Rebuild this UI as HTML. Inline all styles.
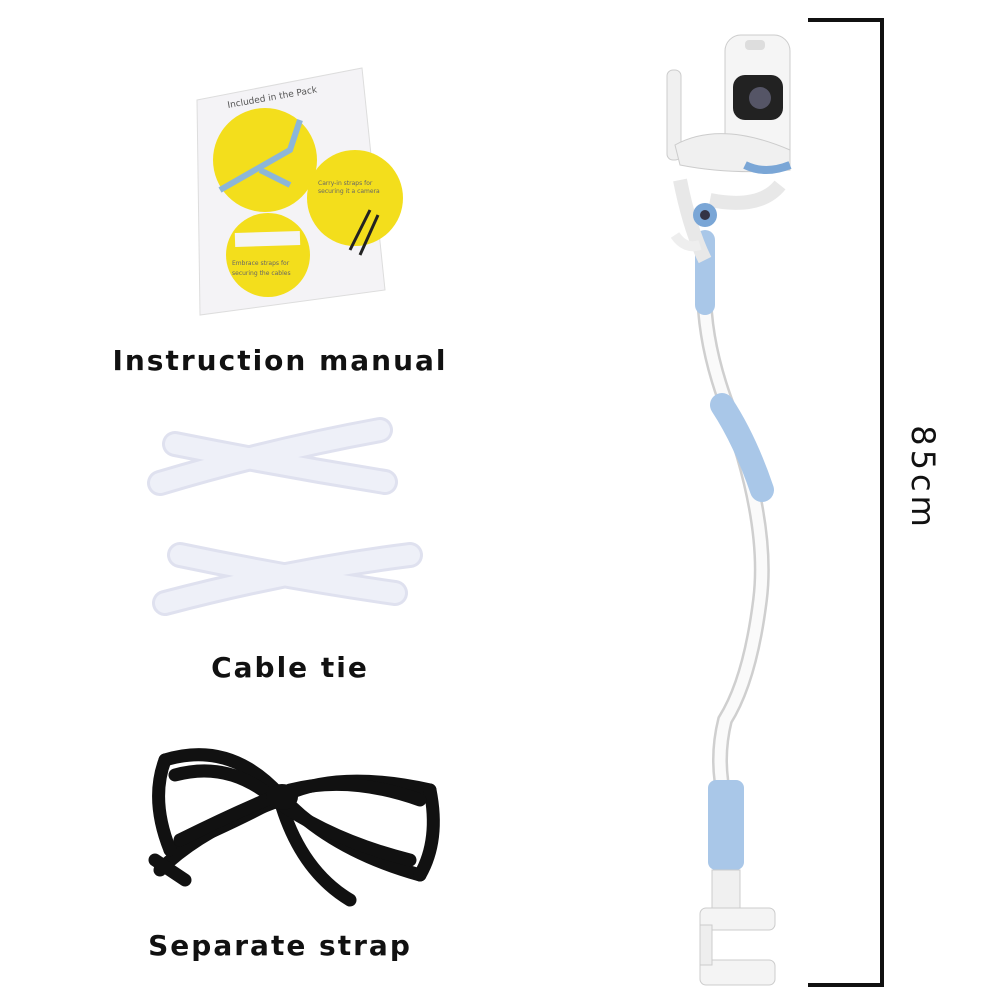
<!DOCTYPE html>
<html><head><meta charset="utf-8"><style>
html,body{margin:0;padding:0;background:#fff;}
svg{display:block}
text{font-family:"DejaVu Sans","Liberation Sans",sans-serif;}
</style></head><body>
<svg width="1000" height="1000" viewBox="0 0 1000 1000" xmlns="http://www.w3.org/2000/svg">
<rect width="1000" height="1000" fill="#fff"/>
<!-- Manual -->
<g>
<polygon points="197,100 362,68 385,290 200,315" fill="#f4f3f6" stroke="#ddd"/>
<text x="228" y="108" font-size="9" fill="#555" transform="rotate(-10 228 108)">Included in the Pack</text>
<circle cx="265" cy="160" r="52" fill="#f3de1c"/>
<circle cx="355" cy="198" r="48" fill="#f3de1c"/>
<circle cx="268" cy="255" r="42" fill="#f3de1c"/>
<path d="M220,190 L290,150 L300,120 M260,170 L290,185" stroke="#8cb6d8" stroke-width="6" fill="none"/>
<path d="M235,240 L300,238" stroke="#f4f4f4" stroke-width="14"/>
<path d="M350,250 L370,210 M360,255 L378,215" stroke="#222" stroke-width="3"/>
<text x="232" y="265" font-size="6" fill="#666">Embrace straps for</text>
<text x="232" y="275" font-size="6" fill="#666">securing the cables</text>
<text x="318" y="185" font-size="6" fill="#666">Carry-in straps for</text>
<text x="318" y="193" font-size="6" fill="#666">securing it a camera</text>
</g>
<text x="280" y="370" font-size="28" font-weight="bold" text-anchor="middle" letter-spacing="2" fill="#111">Instruction manual</text>
<!-- cable ties -->
<g stroke="#dfe1ef" stroke-width="26" stroke-linecap="round" fill="none">
<path d="M175,444 Q280,465 385,482"/>
<path d="M160,483 Q270,450 380,430"/>
<path d="M180,555 Q290,578 395,593"/>
<path d="M165,603 Q290,570 410,555"/>
</g>
<g stroke="#eef0f8" stroke-width="20" stroke-linecap="round" fill="none">
<path d="M175,444 Q280,465 385,482"/>
<path d="M160,483 Q270,450 380,430"/>
<path d="M180,555 Q290,578 395,593"/>
<path d="M165,603 Q290,570 410,555"/>
</g>
<text x="290" y="677" font-size="28" font-weight="bold" text-anchor="middle" letter-spacing="2" fill="#111">Cable tie</text>
<!-- strap -->
<g stroke="#111" stroke-width="13" fill="none" stroke-linecap="round" stroke-linejoin="round">
<path d="M165,760 Q230,740 280,795 Q330,850 420,875"/>
<path d="M170,850 Q240,820 285,795 Q340,770 430,790"/>
<path d="M160,870 Q200,830 280,800 Q300,870 350,900"/>
<path d="M420,875 Q440,840 430,790"/>
<path d="M165,760 Q150,800 170,850"/>
<path d="M175,775 Q230,760 275,800 Q330,840 410,860"/>
<path d="M180,840 Q240,810 290,790 Q350,775 420,800"/>
<path d="M155,860 L185,880"/>
</g>
<ellipse cx="282" cy="797" rx="16" ry="13" fill="#111"/>
<text x="280" y="955" font-size="28" font-weight="bold" text-anchor="middle" letter-spacing="2" fill="#111">Separate strap</text>
<!-- bracket -->
<g stroke="#111" stroke-width="4" fill="none">
<path d="M808,20 L882,20 L882,985 L808,985"/>
</g>
<text x="912" y="478" font-size="32" text-anchor="middle" fill="#111" transform="rotate(90 912 478)" letter-spacing="4">85cm</text>
<!-- stand -->
<path d="M705,270 Q700,330 725,400 Q770,520 760,600 Q750,680 725,720 Q715,760 725,800" stroke="#cfcfcf" stroke-width="16" fill="none"/>
<path d="M705,270 Q700,330 725,400 Q770,520 760,600 Q750,680 725,720 Q715,760 725,800" stroke="#fafafa" stroke-width="11" fill="none"/>
<path d="M705,240 L705,305" stroke="#a9c7e8" stroke-width="20" stroke-linecap="round"/>
<path d="M722,405 Q745,440 762,490" stroke="#a9c7e8" stroke-width="24" stroke-linecap="round"/>
<rect x="708" y="780" width="36" height="90" rx="8" fill="#a9c7e8"/>
<rect x="712" y="870" width="28" height="40" fill="#f0f0f0" stroke="#ccc"/>
<rect x="700" y="908" width="75" height="22" rx="6" fill="#f4f4f4" stroke="#ccc"/>
<rect x="700" y="960" width="75" height="25" rx="6" fill="#f4f4f4" stroke="#ccc"/>
<rect x="700" y="925" width="12" height="40" fill="#eee" stroke="#ccc"/>
<!-- camera -->
<rect x="667" y="70" width="14" height="90" rx="6" fill="#f0f0f0" stroke="#ccc"/>
<rect x="725" y="35" width="65" height="130" rx="16" fill="#f5f5f5" stroke="#ccc"/>
<rect x="745" y="40" width="20" height="10" rx="4" fill="#ddd"/>
<rect x="733" y="75" width="50" height="45" rx="12" fill="#222"/>
<circle cx="760" cy="98" r="11" fill="#556"/>
<path d="M675,145 Q720,120 790,150 L790,170 Q730,175 680,165 Z" fill="#f0f0f0" stroke="#ccc"/>
<path d="M680,180 Q690,230 705,260 M710,200 Q760,210 780,185" stroke="#e8e8e8" stroke-width="14" fill="none"/>
<path d="M745,165 Q765,175 790,165" stroke="#7aa6d6" stroke-width="8" fill="none"/>
<circle cx="705" cy="215" r="12" fill="#7aa6d6"/>
<circle cx="705" cy="215" r="5" fill="#334"/>
<path d="M675,235 Q685,250 700,245" stroke="#eee" stroke-width="10" fill="none"/>
</svg>
</body></html>
